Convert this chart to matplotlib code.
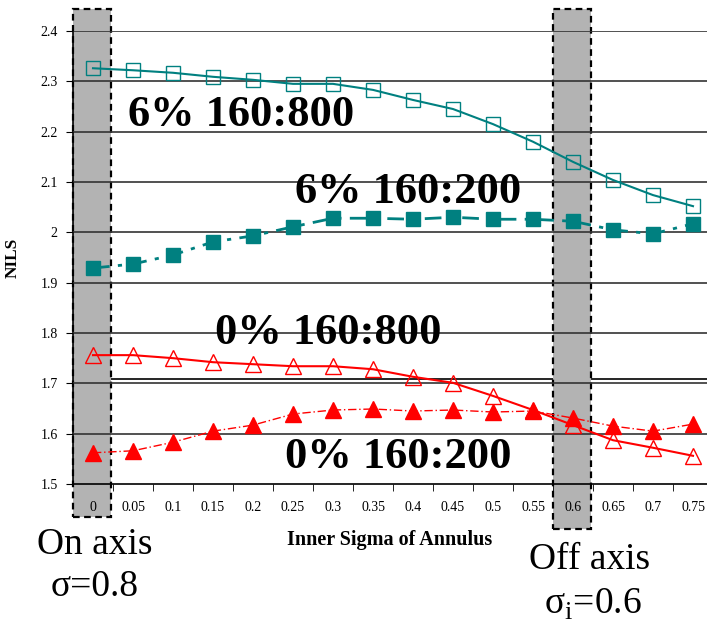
import numpy as np
import matplotlib.pyplot as plt
from matplotlib.patches import Rectangle

plt.rcParams['font.family'] = ['Liberation Serif', 'DejaVu Serif']
plt.rcParams['mathtext.fontset'] = 'custom'
plt.rcParams['mathtext.rm'] = 'Liberation Serif'

#--------------------------------------------------------------------------------------------------
# Data
sigma_labels = ['0', '0.05', '0.1', '0.15', '0.2', '0.25', '0.3', '0.35',
                '0.4', '0.45', '0.5', '0.55', '0.6', '0.65', '0.7', '0.75']

nils_6_800 = [2.326, 2.322, 2.317, 2.309, 2.303, 2.295, 2.295, 2.283,
              2.263, 2.245, 2.215, 2.180, 2.140, 2.104, 2.074, 2.052]
nils_6_200 = [1.929, 1.937, 1.955, 1.981, 1.993, 2.011, 2.028, 2.028,
              2.026, 2.030, 2.026, 2.026, 2.022, 2.005, 1.997, 2.017]
nils_0_800 = [1.756, 1.756, 1.750, 1.742, 1.738, 1.734, 1.734, 1.728,
              1.713, 1.701, 1.675, 1.647, 1.617, 1.587, 1.572, 1.556]
nils_0_200 = [1.562, 1.566, 1.583, 1.605, 1.617, 1.639, 1.647, 1.649,
              1.645, 1.647, 1.643, 1.645, 1.631, 1.615, 1.605, 1.619]

yticks = [1.5, 1.6, 1.7, 1.8, 1.9, 2.0, 2.1, 2.2, 2.3, 2.4]
ytick_labels = ['1.5', '1.6', '1.7', '1.8', '1.9', '2', '2.1', '2.2', '2.3', '2.4']

highlight = ['0', '0.6']

#--------------------------------------------------------------------------------------------------
# Plot
fig = plt.figure(figsize=(7.07, 6.26), dpi=100)
ax = fig.add_axes([73 / 707, 1 - 484 / 626, 1 - 73 / 707, (484 - 31) / 626])

x = np.arange(len(sigma_labels))
teal = '#008080'
red = '#ff0000'

# shaded columns
for lab, bottom in zip(highlight, [1.434, 1.411]):
    i = sigma_labels.index(lab)
    ax.add_patch(Rectangle((i - 0.5, bottom), 0.96, 2.444 - bottom, facecolor='#b3b3b3',
                           edgecolor='black', lw=1.6, ls=(0, (3, 2)), clip_on=False, zorder=1.2))

for yv in yticks[1:]:
    ax.axhline(yv, color='#333333', lw=1.2, zorder=3)
ax.axhline(1.709, xmin=1.0 / 16.85, color='black', lw=1.2, zorder=1)

ax.plot(x, nils_6_800, '-', color=teal, lw=1.5, marker='s', ms=10, mfc='none',
        mec=teal, mew=1.0, zorder=5)
ax.plot(x, nils_6_200, color=teal, lw=2.0, ls=(0, (6, 3, 1.5, 3)), marker='s', ms=10,
        mfc=teal, mec=teal, zorder=5)
ax.plot(x, nils_0_800, '-', color=red, lw=1.5, marker='^', ms=11, mfc='none',
        mec=red, mew=1.0, zorder=5)
ax.plot(x, nils_0_200, color=red, lw=1.0, ls=(0, (6, 2, 1, 2)), marker='^', ms=11,
        mfc=red, mec=red, zorder=5)

big = dict(fontsize=32, fontweight='bold', ha='center', va='center', zorder=6)
ax.text(3.7, 2.233, '6% 160:800', **big)
ax.text(7.89, 2.080, '6% 160:200', **big)
ax.text(5.875, 1.800, '0% 160:800', **big)
ax.text(7.64, 1.554, '0% 160:200', **big)

ax.set_xlim(-0.5, 15.35)
ax.set_ylim(1.5, 2.4)
ax.set_yticks(yticks)
ax.set_yticklabels(ytick_labels, fontsize=10)
ax.set_xticks(x)
ax.set_xticklabels(sigma_labels, fontsize=10)
ax.set_xticks(x[:-1] + 0.5, minor=True)
ax.tick_params(axis='x', which='major', length=0, pad=12)
ax.tick_params(axis='x', which='minor', length=5, direction='out', color='black')
ax.tick_params(axis='y', length=5, direction='out', pad=6)
ax.xaxis.set_zorder(4)
ax.yaxis.set_zorder(4)

for s in ['top', 'right']:
    ax.spines[s].set_visible(False)
ax.spines['left'].set_linewidth(1.2)
ax.spines['bottom'].set_linewidth(1.2)
ax.spines['bottom'].set_zorder(4)

ax.set_ylabel('NILS', fontsize=12.5, fontweight='bold', labelpad=14)
ax.set_xlabel('Inner Sigma of Annulus', fontsize=14.5, fontweight='bold', labelpad=12)

fig.text(95 / 707, 1 - 545 / 626, 'On axis', fontsize=27, ha='center', va='center')
fig.text(95 / 707, 1 - 587 / 626, 'σ=0.8', fontsize=27, ha='center', va='center')
fig.text(590 / 707, 1 - 560 / 626, 'Off axis', fontsize=27, ha='center', va='center')
fig.text(593 / 707, 1 - 604 / 626, r'σ$_\mathregular{i}$=0.6', fontsize=27,
         ha='center', va='center')

fig.savefig('out.png', dpi=100)
